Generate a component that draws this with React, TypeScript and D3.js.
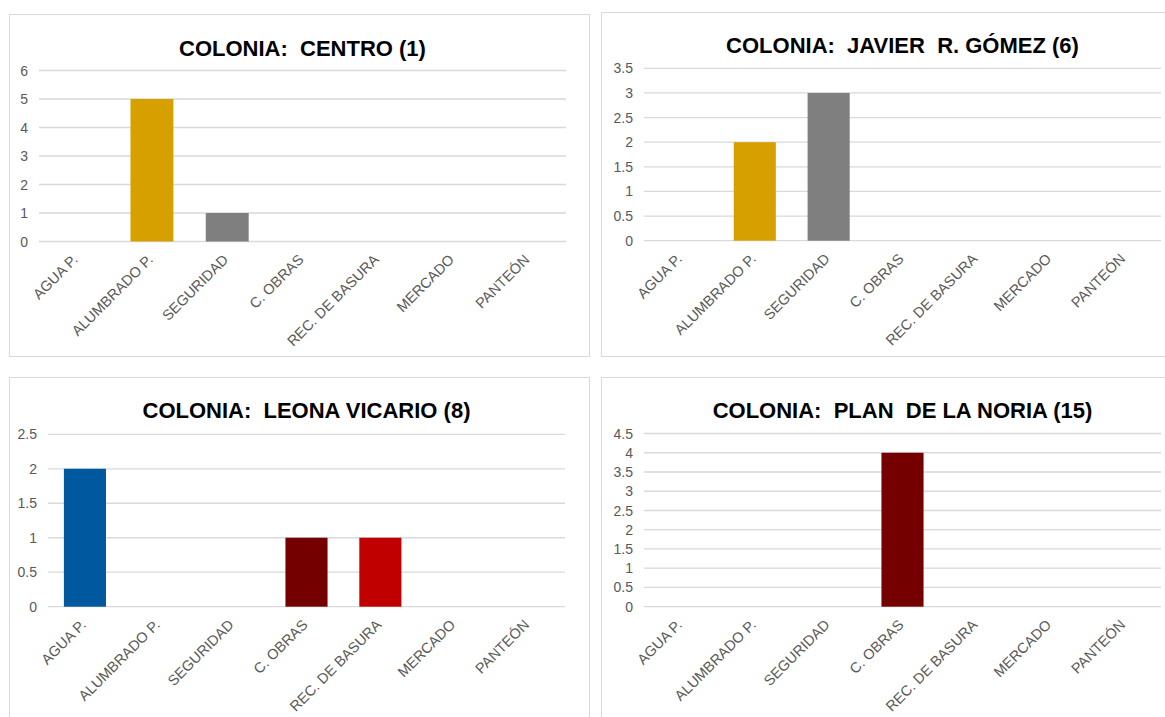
import React from "react";
import * as d3 from "d3";

const categories = ["AGUA P.", "ALUMBRADO P.", "SEGURIDAD", "C. OBRAS", "REC. DE BASURA", "MERCADO", "PANTEÓN"];
const categoryColors = ["#00589E", "#D6A100", "#7F7F7F", "#750000", "#C00000", "#4A7EBB", "#9BBB59"];

const centroValues = [0, 5, 1, 0, 0, 0, 0];
const javierValues = [0, 2, 3, 0, 0, 0, 0];
const leonaValues = [2, 0, 0, 1, 1, 0, 0];
const noriaValues = [0, 0, 0, 4, 0, 0, 0];

const centroTicks = [0, 1, 2, 3, 4, 5, 6];
const javierTicks = [0, 0.5, 1, 1.5, 2, 2.5, 3, 3.5];
const leonaTicks = [0, 0.5, 1, 1.5, 2, 2.5];
const noriaTicks = [0, 0.5, 1, 1.5, 2, 2.5, 3, 3.5, 4, 4.5];

const titles = [
  "COLONIA:  CENTRO (1)",
  "COLONIA:  JAVIER  R. GÓMEZ (6)",
  "COLONIA:  LEONA VICARIO (8)",
  "COLONIA:  PLAN  DE LA NORIA (15)",
];

const panels = [
  { title: titles[0], values: centroValues, ticks: centroTicks, box: [9, 14, 580, 342], plot: [39, 566, 241.5, 70.5], titleY: 55.5 },
  { title: titles[1], values: javierValues, ticks: javierTicks, box: [601, 12, 600, 344], plot: [644, 1161, 240.7, 68.3], titleY: 52.7 },
  { title: titles[2], values: leonaValues, ticks: leonaTicks, box: [9, 377, 580, 400], plot: [48, 565, 606.7, 434.3], titleY: 418 },
  { title: titles[3], values: noriaValues, ticks: noriaTicks, box: [601, 377, 600, 400], plot: [644, 1161, 606.7, 433.5], titleY: 418.3 },
];

const FONT = "Arial, 'Liberation Sans', sans-serif";

function Panel({ p }: { p: any }) {
  const [bx, by, bw, bh] = p.box;
  const [x0, x1, y0, y1] = p.plot;
  const x = d3.scaleBand<string>().domain(categories).range([x0, x1]).paddingInner(0.43).paddingOuter(0.215);
  const y = d3.scaleLinear().domain([0, p.ticks[p.ticks.length - 1]]).range([y0, y1]);
  return (
    <g>
      <rect x={bx + 0.5} y={by + 0.5} width={bw} height={bh} fill="#fff" stroke="#D9D9D9" strokeWidth={1} />
      <text x={(x0 + x1) / 2} y={p.titleY} textAnchor="middle" fontFamily={FONT} fontWeight="bold" fontSize={22} fill="#000" style={{ whiteSpace: "pre" }}>
        {p.title}
      </text>
      {p.ticks.map((t: number) => (
        <g key={t}>
          <line x1={x0} x2={x1} y1={y(t)} y2={y(t)} stroke="#D9D9D9" strokeWidth={1.3} />
          <text x={x0 - 11} y={y(t)} dy="0.36em" textAnchor="end" fontFamily={FONT} fontSize={14} fill="#595959">
            {String(t)}
          </text>
        </g>
      ))}
      {categories.map((c, i) =>
        p.values[i] > 0 ? (
          <rect key={c} x={x(c)} y={y(p.values[i])} width={x.bandwidth()} height={y0 - y(p.values[i])} fill={categoryColors[i]} />
        ) : null
      )}
      {categories.map((c) => {
        const cx = (x(c) as number) + x.bandwidth() / 2;
        return (
          <text key={c} transform={`translate(${cx + 2},${y0 + 19}) rotate(-45)`} textAnchor="end" fontFamily={FONT} fontSize={14.5} fill="#595959">
            {c}
          </text>
        );
      })}
    </g>
  );
}

export default function App() {
  return (
    <svg width={1165} height={717} style={{ position: "absolute", left: 0, top: 0, background: "#fff" }}>
      <rect x={0} y={0} width={1165} height={717} fill="#fff" />
      {panels.map((p, i) => (
        <Panel key={i} p={p} />
      ))}
    </svg>
  );
}
